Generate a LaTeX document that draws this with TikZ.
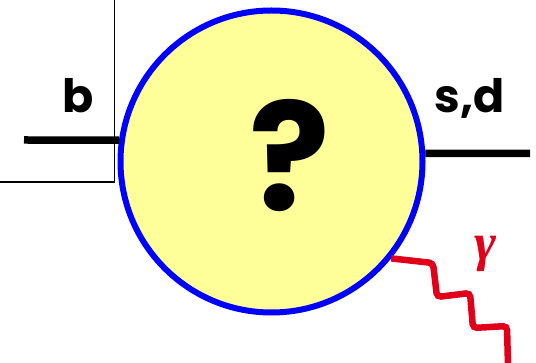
\documentclass[tikz,border=0pt]{standalone}
\usepackage{fontspec}
\setmainfont{Poppins}
\newfontfamily\gammafont{Liberation Serif}
\definecolor{blobfill}{HTML}{FFFF99}
\definecolor{blobline}{HTML}{0000FF}
\definecolor{photonred}{HTML}{E0001A}
\tikzset{
  thinline/.style={draw=black, line width=1.4pt},
  quarkline/.style={draw=black, line width=7.5pt},
  photon/.style={draw=photonred, line width=6.5pt, rounded corners=4pt},
  lbl/.style={font=\fontsize{46}{46}\selectfont\bfseries, anchor=base, inner sep=0pt},
}
\begin{document}
\begin{tikzpicture}[x=1pt,y=-1pt]
  \useasboundingbox[fill=white] (0,0) rectangle (536,363);
  \coordinate (boxtop) at (114.5,0);
  \coordinate (boxcorner) at (114.5,182);
  \coordinate (boxleft) at (0,182);
  \draw[thinline] (boxtop) -- (boxcorner) -- (boxleft);
  \node[circle, draw=blobline, fill=blobfill, line width=6pt, minimum size=302pt, inner sep=0pt] (blob) at (271.5,161.5) {};
  \node[font=\fontsize{150}{150}\selectfont\bfseries, anchor=base, inner sep=0pt] (q) at (290,211) {?};
  \coordinate (bin) at (24,140);
  \coordinate (sout) at (530,153.5);
  \draw[quarkline] (bin) -- (blob.172);
  \draw[quarkline] (blob.3) -- (sout);
  \node[lbl] (blabel) at (78,113) {b};
  \node[lbl] (sdlabel) at (470,113) {s,d};
  \coordinate (p1) at (433,263);
  \coordinate (p2) at (437,297);
  \coordinate (p3) at (470,293);
  \coordinate (p4) at (473,328);
  \coordinate (p5) at (507,326);
  \coordinate (pend) at (508,366);
  \draw[photon] (blob.-39) -- (p1) -- (p2) -- (p3) -- (p4) -- (p5) -- (pend);
  \node[font=\fontsize{53}{53}\selectfont\gammafont\bfseries\itshape, text=photonred, anchor=base, inner sep=0pt] (gam) at (486,261) {γ};
\end{tikzpicture}
\end{document}
